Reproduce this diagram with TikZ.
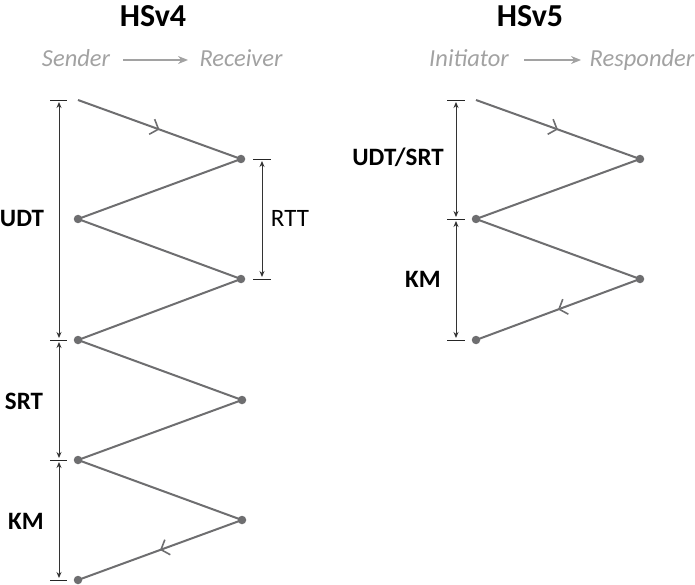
\documentclass[tikz,border=0pt]{standalone}
\usepackage{fontspec}
\setmainfont{Carlito}
\usetikzlibrary{arrows.meta,decorations.markings}
\definecolor{lnc}{HTML}{6E6E70}
\definecolor{hdc}{HTML}{A2A2A2}
\tikzset{
  msg/.style={draw=lnc, line width=2pt},
  midarr/.style={postaction={decorate},decoration={markings,mark=at position 0.5 with {\arrow[lnc,line width=1.6pt]{Straight Barb[length=7pt,width=16pt]}}}},
  pt/.style={circle, fill=lnc, inner sep=0pt, minimum size=8.5pt},
  st/.style={coordinate},
  tick/.style={draw=black!85, line width=0.9pt},
  dim/.style={draw=black!80, line width=0.9pt, {Stealth[length=6pt,width=5pt]}-{Stealth[length=6pt,width=5pt]}, shorten <=2pt, shorten >=2pt},
  ttl/.style={font=\fontsize{32}{34}\selectfont\bfseries, anchor=base},
  hdr/.style={font=\fontsize{24.5}{26}\selectfont\itshape, text=hdc, anchor=base},
  lbl/.style={font=\fontsize{25}{27}\selectfont\bfseries, anchor=base},
  lblr/.style={font=\fontsize{25}{27}\selectfont, anchor=base},
}
\begin{document}
\begin{tikzpicture}[x=1pt,y=-1pt]
\useasboundingbox (0,0) rectangle (695,585);
% ---------- HSv4 ----------
\node[ttl] (t4) at (153,27) {HSv4};
\node[hdr] (snd) at (76,67) {Sender};
\node[hdr] (rcv) at (241,67) {Receiver};
\coordinate (sa) at (123,60);
\coordinate (sb) at (188,60);
\draw[hdc, line width=1.3pt, -{Stealth[length=10pt,width=8pt]}] (sa) -- (sb);
\node[st] (a0) at (78,100) {};
\node[pt] (a1) at (241,159) {};
\node[pt] (a2) at (78,219) {};
\node[pt] (a3) at (241,279) {};
\node[pt] (a4) at (78,340) {};
\node[pt] (a5) at (242,400) {};
\node[pt] (a6) at (78,460) {};
\node[pt] (a7) at (242,520) {};
\node[pt] (a8) at (78,580) {};
\draw[msg,midarr] (a0) -- (a1.center);
\draw[msg] (a1.center) -- (a2.center) -- (a3.center) -- (a4.center) -- (a5.center) -- (a6.center) -- (a7.center);
\draw[msg,midarr] (a7.center) -- (a8.center);
% ticks left
\foreach \y/\n in {100/u0,340/u1,460/u2,580/u3}{
  \coordinate (\n) at (59,\y);
  \draw[tick] (50,\y) -- (67,\y);
}
\draw[dim] (u0) -- (u1);
\draw[dim] (u1) -- (u2);
\draw[dim] (u2) -- (u3);
\node[lbl] (udt) at (22,226) {UDT};
\node[lbl] (srt) at (24,409) {SRT};
\node[lbl] (km4) at (26,529) {KM};
% RTT
\coordinate (r0) at (262,159);
\coordinate (r1) at (262,279);
\draw[tick] (253,159) -- (271,159);
\draw[tick] (253,279) -- (271,279);
\draw[dim] (r0) -- (r1);
\node[lblr] (rtt) at (290,226) {RTT};
% ---------- HSv5 ----------
\node[ttl] (t5) at (530,27) {HSv5};
\node[hdr] (ini) at (469,67) {Initiator};
\node[hdr] (rsp) at (642,67) {Responder};
\coordinate (ia) at (524,60);
\coordinate (ib) at (581,60);
\draw[hdc, line width=1.3pt, -{Stealth[length=10pt,width=8pt]}] (ia) -- (ib);
\node[st] (b0) at (476,100) {};
\node[pt] (b1) at (640,159) {};
\node[pt] (b2) at (476,219) {};
\node[pt] (b3) at (640,279) {};
\node[pt] (b4) at (476,340) {};
\draw[msg,midarr] (b0) -- (b1.center);
\draw[msg] (b1.center) -- (b2.center) -- (b3.center);
\draw[msg,midarr] (b3.center) -- (b4.center);
\foreach \y/\n in {100/v0,219/v1,340/v2}{
  \coordinate (\n) at (456,\y);
  \draw[tick] (447,\y) -- (465,\y);
}
\draw[dim] (v0) -- (v1);
\draw[dim] (v1) -- (v2);
\node[lbl] (us) at (398,166) {UDT/SRT};
\node[lbl] (km5) at (423,287) {KM};
\end{tikzpicture}
\end{document}
